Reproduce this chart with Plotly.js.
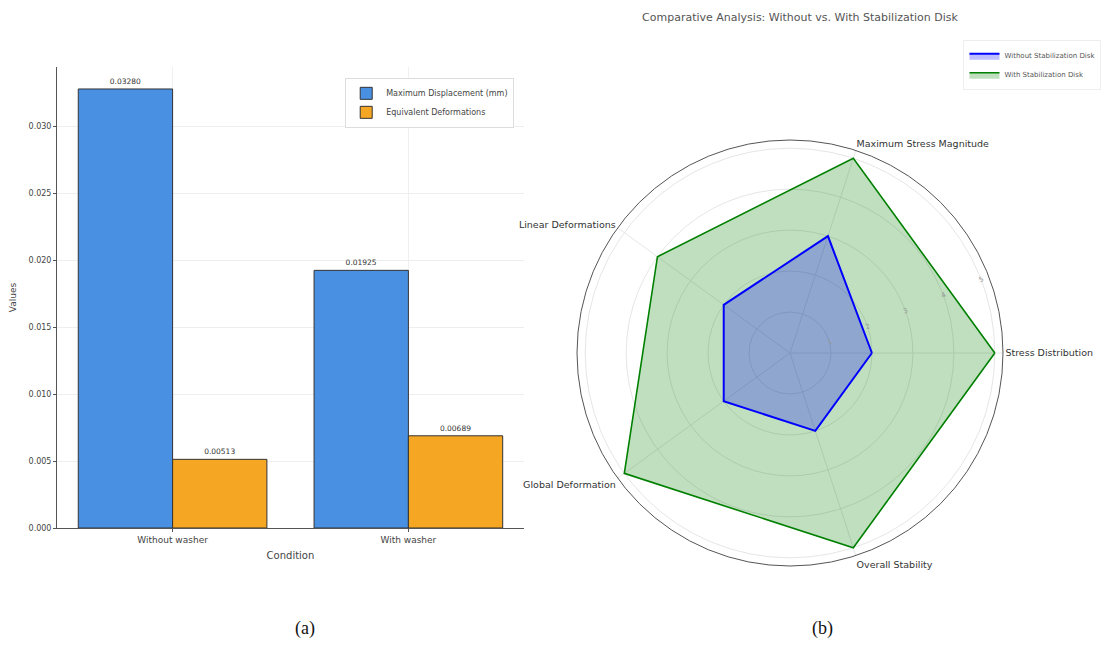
<!DOCTYPE html>
<html>
<head>
<meta charset="utf-8">
<script src="https://cdn.plot.ly/plotly-3.0.1.min.js"></script>
<style>
  html, body { margin: 0; padding: 0; background: #ffffff; }
  #chart { width: 1110px; height: 671px; }
</style>
</head>
<body>
<div id="chart"></div>
<script>
// ---- Panel (a): bar chart data ----
const conditions = ["Without washer", "With washer"];
const maxDisplacement = [0.03280, 0.01925];
const equivalentDeformations = [0.00513, 0.00689];
const barYTicks = [0.000, 0.005, 0.010, 0.015, 0.020, 0.025, 0.030];

// ---- Panel (b): radar chart data ----
const radarCategories = ["Stress Distribution", "Maximum Stress Magnitude", "Linear Deformations", "Global Deformation", "Overall Stability"];
const withoutDisk = [2, 3, 2, 2, 2];
const withDisk = [5, 5, 4, 5, 5];
const radialTicks = [1, 2, 3, 4, 5];

function closeLoop(arr) { return arr.concat([arr[0]]); }

const traces = [
  {
    type: "bar", name: "Maximum Displacement (mm)",
    x: conditions, y: maxDisplacement,
    marker: { color: "#4a90e2", line: { color: "#333333", width: 1 } },
    texttemplate: "%{y:.5f}", textposition: "outside", cliponaxis: false,
    textfont: { size: 7.5, color: "#333333", family: "DejaVu Sans" },
    xaxis: "x", yaxis: "y", legend: "legend"
  },
  {
    type: "bar", name: "Equivalent Deformations",
    x: conditions, y: equivalentDeformations,
    marker: { color: "#f5a623", line: { color: "#333333", width: 1 } },
    texttemplate: "%{y:.5f}", textposition: "outside", cliponaxis: false,
    textfont: { size: 7.5, color: "#333333", family: "DejaVu Sans" },
    xaxis: "x", yaxis: "y", legend: "legend"
  },
  {
    type: "scatterpolar", name: "With Stabilization Disk",
    r: closeLoop(withDisk), theta: closeLoop(radarCategories),
    mode: "lines", fill: "toself",
    fillcolor: "rgba(0,128,0,0.25)",
    line: { color: "green", width: 1.6 },
    subplot: "polar", legend: "legend2"
  },
  {
    type: "scatterpolar", name: "Without Stabilization Disk",
    r: closeLoop(withoutDisk), theta: closeLoop(radarCategories),
    mode: "lines", fill: "toself",
    fillcolor: "rgba(0,0,255,0.25)",
    line: { color: "blue", width: 2 },
    subplot: "polar", legend: "legend2"
  }
];

const layout = {
  width: 1110, height: 671,
  margin: { l: 0, r: 0, t: 0, b: 0 },
  paper_bgcolor: "#ffffff", plot_bgcolor: "#ffffff",
  font: { family: "DejaVu Sans", color: "#444444" },
  title: {
    text: "Comparative Analysis: Without vs. With Stabilization Disk",
    x: 0.7207, xanchor: "center", xref: "paper",
    y: 0.975, yanchor: "middle", yref: "container",
    font: { size: 11, color: "#555555", family: "DejaVu Sans" }
  },
  barmode: "group", bargap: 0.2, bargroupgap: 0,
  xaxis: {
    domain: [0.0514, 0.472],
    type: "category", range: [-0.49, 1.49],
    showline: true, linecolor: "#555555", linewidth: 1,
    ticks: "outside", ticklen: 3, tickcolor: "#555555",
    showgrid: true, gridcolor: "#f0f0f0",
    tickfont: { size: 9, color: "#444444" },
    title: { text: "Condition", font: { size: 10, color: "#444444" }, standoff: 8 },
    automargin: false, zeroline: false
  },
  yaxis: {
    domain: [0.2131, 0.9001],
    range: [0, 0.03444],
    tickvals: barYTicks, tickformat: ".3f",
    showline: true, linecolor: "#555555", linewidth: 1,
    ticks: "outside", ticklen: 3, tickcolor: "#555555",
    showgrid: true, gridcolor: "#eeeeee",
    tickfont: { size: 8, color: "#444444" },
    title: { text: "Values", font: { size: 9, color: "#444444" }, standoff: 10 },
    automargin: false, zeroline: false
  },
  legend: {
    x: 0.311, y: 0.884, xanchor: "left", yanchor: "top",
    bgcolor: "rgba(255,255,255,0.9)", bordercolor: "#dddddd", borderwidth: 1,
    font: { size: 8, color: "#444444" }, tracegroupgap: 2
  },
  legend2: {
    x: 0.868, y: 0.94, xanchor: "left", yanchor: "top",
    bgcolor: "rgba(255,255,255,0.9)", bordercolor: "#eeeeee", borderwidth: 1,
    font: { size: 7, color: "#555555" }, traceorder: "reversed", tracegroupgap: 0,
    itemwidth: 30
  },
  polar: {
    domain: { x: [(790 - 213) / 1110, (790 + 213) / 1110], y: [(318 - 213) / 671, (318 + 213) / 671] },
    bgcolor: "#ffffff",
    angularaxis: {
      rotation: 0, direction: "counterclockwise",
      showline: true, linecolor: "#555555", linewidth: 1,
      showgrid: true, gridcolor: "#e6e6e6",
      ticks: "", tickfont: { size: 9.5, color: "#333333" }
    },
    radialaxis: {
      range: [0, 5.2], tickvals: radialTicks,
      angle: 22.5, tickangle: 0,
      showline: false, ticks: "",
      showgrid: true, gridcolor: "#e6e6e6",
      tickfont: { size: 7, color: "#999999" }
    }
  },
  annotations: [
    { text: "(a)", x: 293 / 1110, y: 1 - 641 / 671, xref: "paper", yref: "paper",
      showarrow: false, font: { family: "Liberation Serif", size: 18, color: "#111111" } },
    { text: "(b)", x: 835 / 1110, y: 1 - 641 / 671, xref: "paper", yref: "paper",
      showarrow: false, font: { family: "Liberation Serif", size: 18, color: "#111111" } }
  ],
  showlegend: true
};

Plotly.newPlot("chart", traces, layout, { displayModeBar: false, staticPlot: true });
</script>
</body>
</html>
